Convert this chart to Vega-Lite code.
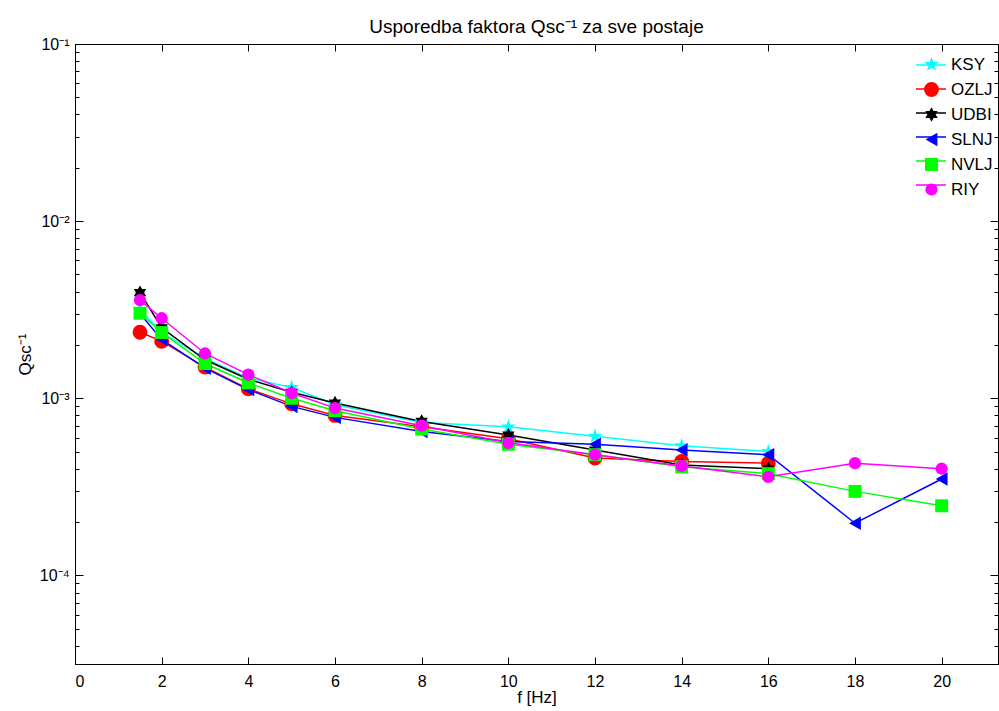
{
  "$schema": "https://vega.github.io/schema/vega-lite/v6.json",
  "width": 923,
  "height": 620,
  "autosize": {"type": "none"},
  "padding": {"left": 75, "top": 44, "right": 1, "bottom": 47},
  "background": "white",
  "config": {
    "view": {"stroke": "black", "strokeWidth": 1},
    "font": "Liberation Sans",
    "axis": {"grid": false, "domainColor": "black", "tickColor": "black", "labelColor": "black", "titleColor": "black", "labelFont": "Liberation Sans", "titleFont": "Liberation Sans", "labelFontSize": 16, "titleFontSize": 17, "titleFontWeight": "normal"},
    "legend": {"padding": 0, "labelFont": "Liberation Sans", "labelFontSize": 17, "labelColor": "black"}
  },
  "title": {"text": "Usporedba faktora Qsc⁻¹ za sve postaje", "fontSize": 19, "fontWeight": "normal", "font": "Liberation Sans", "color": "black", "offset": -1},
  "data": {"values": [
    {"station": "KSY", "f": 1.5, "q": 0.00315},
    {"station": "KSY", "f": 2, "q": 0.00235},
    {"station": "KSY", "f": 3, "q": 0.00168},
    {"station": "KSY", "f": 4, "q": 0.0013},
    {"station": "KSY", "f": 5, "q": 0.00115},
    {"station": "KSY", "f": 6, "q": 0.00092},
    {"station": "KSY", "f": 8, "q": 0.00073},
    {"station": "KSY", "f": 10, "q": 0.00069},
    {"station": "KSY", "f": 12, "q": 0.00061},
    {"station": "KSY", "f": 14, "q": 0.00054},
    {"station": "KSY", "f": 16, "q": 0.0005},
    {"station": "OZLJ", "f": 1.5, "q": 0.00236},
    {"station": "OZLJ", "f": 2, "q": 0.0021},
    {"station": "OZLJ", "f": 3, "q": 0.0015},
    {"station": "OZLJ", "f": 4, "q": 0.00113},
    {"station": "OZLJ", "f": 5, "q": 0.00093},
    {"station": "OZLJ", "f": 6, "q": 0.0008},
    {"station": "OZLJ", "f": 8, "q": 0.00069},
    {"station": "OZLJ", "f": 10, "q": 0.00059},
    {"station": "OZLJ", "f": 12, "q": 0.00046},
    {"station": "OZLJ", "f": 14, "q": 0.00044},
    {"station": "OZLJ", "f": 16, "q": 0.00043},
    {"station": "UDBI", "f": 1.5, "q": 0.00395},
    {"station": "UDBI", "f": 2, "q": 0.0025},
    {"station": "UDBI", "f": 3, "q": 0.00165},
    {"station": "UDBI", "f": 4, "q": 0.00128},
    {"station": "UDBI", "f": 5, "q": 0.00108},
    {"station": "UDBI", "f": 6, "q": 0.00094},
    {"station": "UDBI", "f": 8, "q": 0.00074},
    {"station": "UDBI", "f": 10, "q": 0.00062},
    {"station": "UDBI", "f": 12, "q": 0.00051},
    {"station": "UDBI", "f": 14, "q": 0.00042},
    {"station": "UDBI", "f": 16, "q": 0.0004},
    {"station": "SLNJ", "f": 1.5, "q": 0.003},
    {"station": "SLNJ", "f": 2, "q": 0.00215},
    {"station": "SLNJ", "f": 3, "q": 0.00148},
    {"station": "SLNJ", "f": 4, "q": 0.00112},
    {"station": "SLNJ", "f": 5, "q": 0.0009},
    {"station": "SLNJ", "f": 6, "q": 0.00078},
    {"station": "SLNJ", "f": 8, "q": 0.00065},
    {"station": "SLNJ", "f": 10, "q": 0.00057},
    {"station": "SLNJ", "f": 12, "q": 0.00055},
    {"station": "SLNJ", "f": 14, "q": 0.00051},
    {"station": "SLNJ", "f": 16, "q": 0.00048},
    {"station": "SLNJ", "f": 18, "q": 0.000197},
    {"station": "SLNJ", "f": 20, "q": 0.00035},
    {"station": "NVLJ", "f": 1.5, "q": 0.00302},
    {"station": "NVLJ", "f": 2, "q": 0.00235},
    {"station": "NVLJ", "f": 3, "q": 0.00157},
    {"station": "NVLJ", "f": 4, "q": 0.00122},
    {"station": "NVLJ", "f": 5, "q": 0.001},
    {"station": "NVLJ", "f": 6, "q": 0.00085},
    {"station": "NVLJ", "f": 8, "q": 0.00067},
    {"station": "NVLJ", "f": 10, "q": 0.00055},
    {"station": "NVLJ", "f": 12, "q": 0.00048},
    {"station": "NVLJ", "f": 14, "q": 0.00041},
    {"station": "NVLJ", "f": 16, "q": 0.000375},
    {"station": "NVLJ", "f": 18, "q": 0.000298},
    {"station": "NVLJ", "f": 20, "q": 0.000247},
    {"station": "RIY", "f": 1.5, "q": 0.00358},
    {"station": "RIY", "f": 2, "q": 0.00283},
    {"station": "RIY", "f": 3, "q": 0.00179},
    {"station": "RIY", "f": 4, "q": 0.00136},
    {"station": "RIY", "f": 5, "q": 0.00107},
    {"station": "RIY", "f": 6, "q": 0.00088},
    {"station": "RIY", "f": 8, "q": 0.0007},
    {"station": "RIY", "f": 10, "q": 0.00056},
    {"station": "RIY", "f": 12, "q": 0.00048},
    {"station": "RIY", "f": 14, "q": 0.000415},
    {"station": "RIY", "f": 16, "q": 0.00036},
    {"station": "RIY", "f": 18, "q": 0.00043},
    {"station": "RIY", "f": 20, "q": 0.0004}
  ]},
  "layer": [
    {
      "mark": {"type": "line", "strokeWidth": 1.5, "clip": true},
      "encoding": {
        "x": {"field": "f", "type": "quantitative", "scale": {"domain": [0, 21.3], "nice": false, "zero": false},
          "axis": {"orient": "bottom", "values": [0,2,4,6,8,10,12,14,16,18,20], "tickSize": -7, "labelPadding": 16, "title": "f [Hz]", "titlePadding": 0}},
        "y": {"field": "q", "type": "quantitative", "scale": {"type": "log", "domain": [3.16e-5, 0.1], "nice": false},
          "axis": {"orient": "left",
            "values": [4e-5,5e-5,6e-5,7e-5,8e-5,9e-5,1e-4,2e-4,3e-4,4e-4,5e-4,6e-4,7e-4,8e-4,9e-4,1e-3,2e-3,3e-3,4e-3,5e-3,6e-3,7e-3,8e-3,9e-3,1e-2,2e-2,3e-2,4e-2,5e-2,6e-2,7e-2,8e-2,9e-2,0.1],
            "labelExpr": "abs(log(datum.value)/LN10 - round(log(datum.value)/LN10)) < 0.01 ? '10' + ['⁻⁵','⁻⁴','⁻³','⁻²','⁻¹'][round(log(datum.value)/LN10)+5] : ''",
            "tickSize": {"condition": {"test": "abs(log(datum.value)/LN10 - round(log(datum.value)/LN10)) < 0.01", "value": -8}, "value": -4},
            "labelPadding": 14, "title": "Qsc⁻¹", "titlePadding": 5}},
        "stroke": {"field": "station", "type": "nominal",
          "scale": {"domain": ["RIY","NVLJ","SLNJ","UDBI","OZLJ","KSY"], "range": ["#FF00FF","#00FF00","#0000FF","#000000","#FF0000","#00FFFF"]},
          "legend": {"orient": "none", "legendX": 840, "legendY": 5, "title": null, "values": ["KSY","OZLJ","UDBI","SLNJ","NVLJ","RIY"], "symbolType": "stroke", "symbolSize": 900, "symbolStrokeWidth": 1.5, "labelExpr": "''", "labelFontSize": 17, "rowPadding": -6, "labelOffset": 0}}
      }
    },
    {
      "mark": {"type": "point", "filled": true, "opacity": 1, "clip": true},
      "encoding": {
        "x": {"field": "f", "type": "quantitative",
          "axis": {"orient": "top", "values": [0,2,4,6,8,10,12,14,16,18,20], "tickSize": -7, "labels": false, "title": null}},
        "y": {"field": "q", "type": "quantitative",
          "axis": {"orient": "right",
            "values": [4e-5,5e-5,6e-5,7e-5,8e-5,9e-5,1e-4,2e-4,3e-4,4e-4,5e-4,6e-4,7e-4,8e-4,9e-4,1e-3,2e-3,3e-3,4e-3,5e-3,6e-3,7e-3,8e-3,9e-3,1e-2,2e-2,3e-2,4e-2,5e-2,6e-2,7e-2,8e-2,9e-2,0.1],
            "tickSize": {"condition": {"test": "abs(log(datum.value)/LN10 - round(log(datum.value)/LN10)) < 0.01", "value": -8}, "value": -4},
            "labels": false, "title": null}},
        "color": {"field": "station", "type": "nominal",
          "scale": {"domain": ["KSY","OZLJ","UDBI","SLNJ","NVLJ","RIY"], "range": ["#00FFFF","#FF0000","#000000","#0000FF","#00FF00","#FF00FF"]},
          "legend": {"orient": "none", "legendX": 848, "legendY": 12, "title": null, "symbolSize": 160, "rowPadding": 7, "labelOffset": 11, "labelFontSize": 17}},
        "shape": {"field": "station", "type": "nominal",
          "scale": {"domain": ["KSY","OZLJ","UDBI","SLNJ","NVLJ","RIY"], "range": [
            "M0,-1L0.2245,-0.309L0.951,-0.309L0.363,0.118L0.588,0.809L0,0.382L-0.588,0.809L-0.363,0.118L-0.951,-0.309L-0.2245,-0.309Z",
            "circle",
            "M0,-1L0.2887,-0.5L0.866,-0.5L0.577,0L0.866,0.5L0.2887,0.5L0,1L-0.2887,0.5L-0.866,0.5L-0.577,0L-0.866,-0.5L-0.2887,-0.5Z",
            "triangle-left", "square", "circle"]},
          "legend": {"orient": "none", "legendX": 848, "legendY": 12, "title": null, "symbolSize": 160, "rowPadding": 7, "labelOffset": 11, "labelFontSize": 17}},
        "size": {"field": "station", "type": "nominal",
          "scale": {"domain": ["KSY","OZLJ","UDBI","SLNJ","NVLJ","RIY"], "range": [240, 150, 200, 150, 130, 150]},
          "legend": null}
      }
    }
  ],
  "resolve": {"axis": {"x": "independent", "y": "independent"}}
}
